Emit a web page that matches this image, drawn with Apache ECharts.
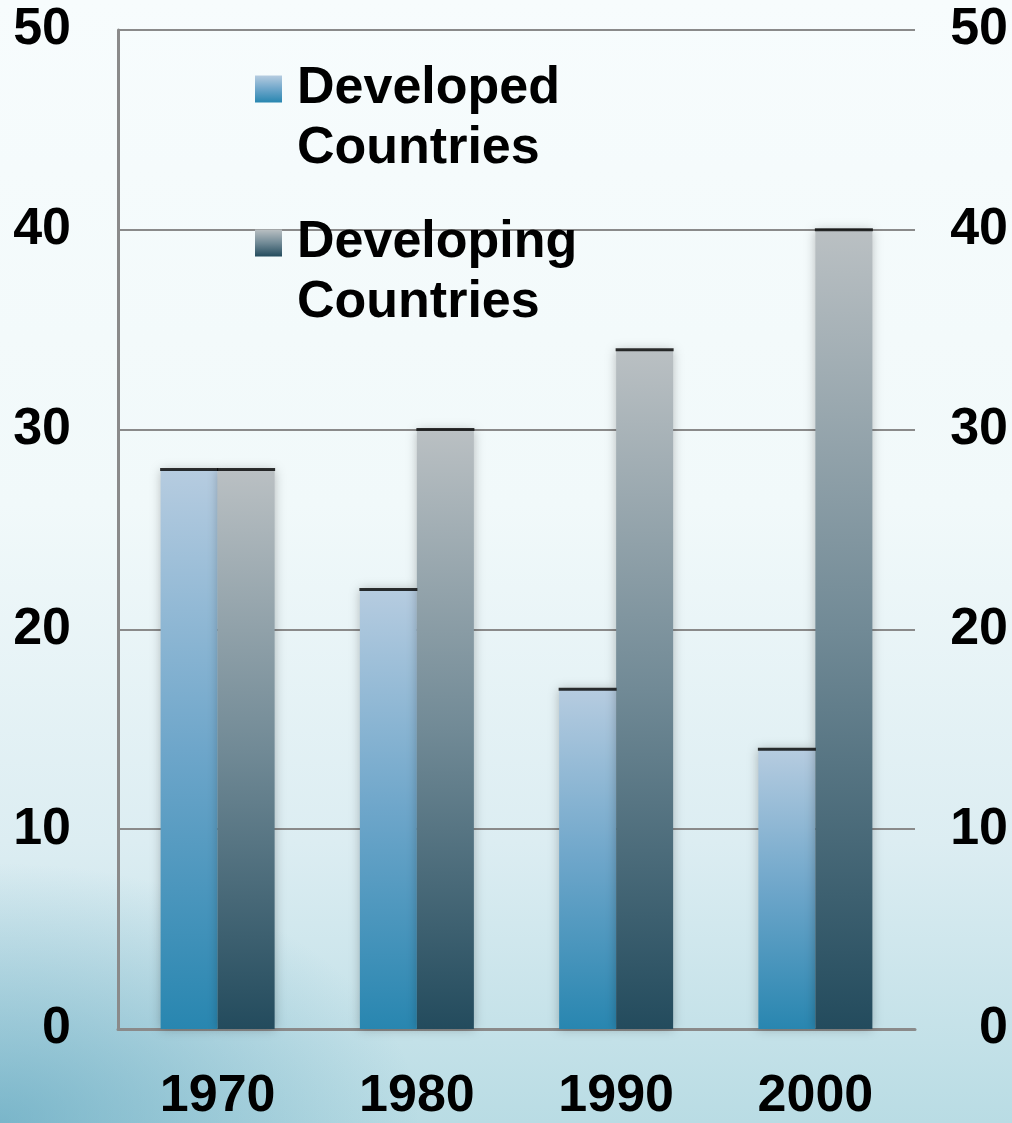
<!DOCTYPE html>
<html>
<head>
<meta charset="utf-8">
<script src="https://cdn.jsdelivr.net/npm/echarts@6/dist/echarts.min.js"></script>
<style>
html, body { margin:0; padding:0; }
body {
	width:1012px; height:1123px; overflow:hidden;
	background:
		radial-gradient(ellipse 420px 260px at 0% 100%, rgba(70,150,180,0.55), rgba(70,150,180,0) 100%),
		linear-gradient(to bottom, #f7fcfd 0%, #f1f9fa 45%, #dcedf2 75%, #b9dce4 100%);
}
#myChart { width:1012px; height:1123px; }
</style>
</head>
<body>
<div id="myChart"></div>
<script type="text/javascript">
// data
var years      = ['1970', '1980', '1990', '2000'];
var developed  = [28, 22, 17, 14];
var developing = [28, 30, 34, 40];
var seriesNames = ['Developed\nCountries', 'Developing\nCountries'];

var font = '"Liberation Sans", Arial, sans-serif';

function grad(top, mid, bottom)
{
	return new echarts.graphic.LinearGradient(0, 0, 0, 1, [
		{offset: 0, color: top},
		{offset: 0.5, color: mid},
		{offset: 1, color: bottom}
	]);
}

var option = {
	animation: false,
	grid: {left: 118, right: 97, top: 30, bottom: 88},
	legend: {
		orient: 'vertical',
		left: 255,
		top: 3,
		padding: 0,
		itemWidth: 27,
		itemHeight: 27,
		itemGap: -18,
		icon: 'rect',
		data: seriesNames,
		// empty first line so the icon sits beside the first real line
		formatter: function(name)
		{
			var lines = name.split('\n');
			return '{t| }\n{t|' + lines[0] + '}\n{t|' + lines[1] + '}';
		},
		textStyle: {
			rich: {
				t: {
					fontFamily: font,
					fontWeight: 'bold',
					fontSize: 52,
					lineHeight: 60,
					color: '#000',
					padding: [0, 0, 0, 10]
				}
			}
		}
	},
	xAxis: {
		type: 'category',
		data: years,
		axisLine: {lineStyle: {color: '#8a8a8a', width: 3}},
		axisTick: {inside: true, length: 15, lineStyle: {color: '#8a8a8a', width: 2}},
		axisLabel: {fontFamily: font, fontWeight: 'bold', fontSize: 52, color: '#000', margin: 42}
	},
	yAxis: [
		{
			type: 'value', min: 0, max: 50, interval: 10,
			axisLine: {show: true, lineStyle: {color: '#8a8a8a', width: 3}},
			axisTick: {show: false},
			splitLine: {lineStyle: {color: '#8a8a8a', width: 2}},
			axisLabel: {fontFamily: font, fontWeight: 'bold', fontSize: 52, color: '#000', margin: 47}
		},
		{
			type: 'value', min: 0, max: 50, interval: 10, position: 'right',
			axisLine: {show: false},
			axisTick: {show: false},
			splitLine: {show: false},
			axisLabel: {fontFamily: font, fontWeight: 'bold', fontSize: 52, color: '#000', margin: 93, align: 'right'}
		}
	],
	series: [
		{
			name: seriesNames[0],
			type: 'bar',
			barWidth: 57,
			barGap: '0%',
			data: developed,
			itemStyle: {
				color: grad('#b6cce0', '#6ea6ca', '#2886b0'),
				shadowBlur: 10,
				shadowColor: 'rgba(0,0,0,0.25)'
			}
		},
		{
			name: seriesNames[1],
			type: 'bar',
			barWidth: 57,
			barGap: '0%',
			data: developing,
			itemStyle: {
				color: grad('#bac0c3', '#718a96', '#234b5d'),
				shadowBlur: 10,
				shadowColor: 'rgba(0,0,0,0.25)'
			}
		},
		// black top edges of the bars
		{
			type: 'scatter',
			symbol: 'rect',
			symbolSize: [58, 3],
			symbolOffset: [-28.5, 0],
			data: developed,
			itemStyle: {color: '#000'},
			silent: true,
			z: 5
		},
		{
			type: 'scatter',
			symbol: 'rect',
			symbolSize: [58, 3],
			symbolOffset: [28.5, 0],
			data: developing,
			itemStyle: {color: '#000'},
			silent: true,
			z: 5
		}
	]
};

echarts.init(document.getElementById('myChart')).setOption(option);
</script>
</body>
</html>
